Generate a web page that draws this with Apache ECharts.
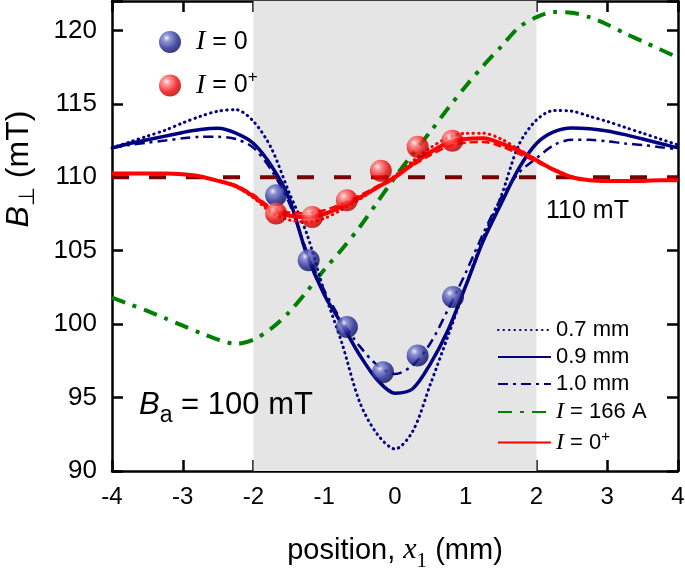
<!DOCTYPE html>
<html>
<head>
<meta charset="utf-8">
<script src="https://cdn.jsdelivr.net/npm/echarts@6/dist/echarts.min.js"></script>
<style>
  html, body { margin: 0; padding: 0; background: #fff; }
  #chart { width: 685px; height: 574px; }
</style>
</head>
<body>
<div id="chart"></div>
<script>
// positions along x1 (mm)
const xs = [-4, -3.75, -3.5, -3.25, -3, -2.75, -2.5, -2.25, -2, -1.75, -1.5, -1.25, -1, -0.75, -0.5, -0.25,
  0, 0.25, 0.5, 0.75, 1, 1.25, 1.5, 1.75, 2, 2.25, 2.5, 2.75, 3, 3.25, 3.5, 3.75, 4];
// model curves, B_perp (mT)
const b07 = [112.0, 112.4, 112.8, 113.2, 113.7, 114.15, 114.5, 114.6, 113.8, 112.0, 109.0, 106.2, 102.2, 98.7, 94.7, 92.5,
  91.5, 92.7, 95.9, 99.2, 102.6, 105.9, 108.7, 112.2, 113.9, 114.55, 114.5, 114.15, 113.8, 113.4, 113.0, 112.6, 112.2];
const b09 = [112.0, 112.3, 112.55, 112.8, 113.05, 113.25, 113.33, 113.0, 112.3, 110.8, 108.6, 104.8, 102.0, 100.0, 97.9, 96.2,
  95.3, 95.6, 97.3, 99.6, 102.6, 105.7, 108.2, 110.6, 112.3, 113.1, 113.35, 113.3, 113.15, 112.9, 112.6, 112.3, 112.0];
const b10 = [112.0, 112.2, 112.35, 112.5, 112.65, 112.75, 112.75, 112.6, 112.0, 110.5, 108.3, 105.0, 102.3, 100.2, 98.5, 97.2,
  96.6, 97.2, 98.7, 101.0, 103.5, 106.2, 108.6, 110.3, 111.3, 112.2, 112.55, 112.55, 112.45, 112.3, 112.2, 112.05, 111.9];
const g166 = [101.8, 101.35, 100.9, 100.4, 99.9, 99.4, 98.95, 98.65, 98.95, 99.7, 100.8, 102.2, 103.7, 105.1, 106.6, 108.3,
  110.0, 111.6, 113.1, 114.7, 116.2, 117.6, 118.9, 120.2, 120.9, 121.25, 121.2, 120.9, 120.4, 119.8, 119.25, 118.7, 118.15];
const r0p = [110.25, 110.25, 110.25, 110.25, 110.2, 110.05, 109.75, 109.4, 108.7, 107.8, 107.4, 107.3, 107.5, 108.0, 108.6, 109.3,
  110.0, 110.9, 111.7, 112.35, 112.6, 112.65, 112.3, 111.8, 111.15, 110.5, 110.0, 109.8, 109.75, 109.75, 109.75, 109.8, 109.8];
// extra red fits, central part only
const xsMid = [-2.5, -2.25, -2, -1.75, -1.5, -1.25, -1, -0.75, -0.5, -0.25, 0, 0.25, 0.5, 0.75, 1, 1.25, 1.5, 1.75, 2, 2.25, 2.5];
const r0pDot = [109.75, 109.35, 108.6, 107.6, 107.1, 106.95, 107.2, 107.8, 108.5, 109.3, 110.1, 111.1, 112.0, 112.7, 113.0, 113.0,
  112.6, 111.9, 111.2, 110.5, 110.0];
const r0pDash = [109.8, 109.45, 108.8, 107.95, 107.6, 107.55, 107.75, 108.2, 108.75, 109.4, 110.05, 110.8, 111.5, 112.1, 112.35,
  112.4, 112.1, 111.6, 111.05, 110.45, 110.0];
// measured points
const pX0 = [-1.68, -1.22, -0.68, -0.17, 0.32, 0.82];
const pY0 = [108.78, 104.35, 99.8, 96.73, 97.87, 101.85];
const pXp = [-1.68, -1.17, -0.68, -0.2, 0.32, 0.81];
const pYp = [107.53, 107.3, 108.44, 110.44, 112.07, 112.48];
// reference level and sample region
const refLevel = 110;
const sampleEdge = [-2, 2];
const xTicks = [-4, 4, 1];
const yTicks = [90, 122, 5];

const SANS = 'Liberation Sans, Arial, sans-serif';
const SERIF = 'Liberation Serif, Times New Roman, serif';

function zip(a, b) { return a.map((v, i) => [v, b[i]]); }

function ball(c0, c1, c2, c3) {
  return new echarts.graphic.RadialGradient(0.35, 0.32, 0.7, [
    {offset: 0, color: c0}, {offset: 0.22, color: c1}, {offset: 0.7, color: c2}, {offset: 1, color: c3}
  ]);
}

const chart = echarts.init(document.getElementById('chart'));

const legendNames = {
  'p0': '{i|I}{t| = 0}',
  'pp': '{i|I}{t| = 0}{sup|+}',
  '0.7 mm': '{t|0.7 mm}',
  '0.9 mm': '{t|0.9 mm}',
  '1.0 mm': '{t|1.0 mm}',
  'g166': '{i|I}{t| = 166 A}',
  'r0p': '{i|I}{t| = 0}{sup|+}'
};

const option = {
  animation: false,
  backgroundColor: '#fff',
  grid: {left: 112, right: 7, top: 1, bottom: 103, containLabel: false, outerBoundsMode: 'none'},
  xAxis: [{
    type: 'value', min: xTicks[0], max: xTicks[1], interval: xTicks[2],
    name: '{t|position, }{i|x}{s|1}{t| (mm)}',
    nameLocation: 'middle', nameGap: 58,
    nameTextStyle: {
      rich: {
        t: {fontFamily: SANS, fontSize: 29, color: '#000'},
        i: {fontFamily: SERIF, fontStyle: 'italic', fontSize: 30, color: '#000'},
        s: {fontFamily: SERIF, fontSize: 21, color: '#000', padding: [22, 0, 0, 0]}
      }
    },
    axisLine: {onZero: false, lineStyle: {color: '#000', width: 2.5}},
    axisTick: {inside: true, length: 11, lineStyle: {color: '#000', width: 2.5}},
    axisLabel: {margin: 14, fontFamily: SANS, fontSize: 24, color: '#000'},
    splitLine: {show: false}
  }, {
    type: 'value', position: 'top', min: xTicks[0], max: xTicks[1], interval: xTicks[2],
    axisLine: {onZero: false, lineStyle: {color: '#000', width: 2.5}},
    axisTick: {inside: true, length: 11, lineStyle: {color: '#000', width: 2.5}},
    axisLabel: {show: false},
    splitLine: {show: false}
  }],
  yAxis: [{
    type: 'value', min: yTicks[0], max: yTicks[1], interval: yTicks[2],
    axisLine: {onZero: false, lineStyle: {color: '#000', width: 2.5}},
    axisTick: {inside: true, length: 11, lineStyle: {color: '#000', width: 2.5}},
    axisLabel: {margin: 15, fontFamily: SANS, fontSize: 26, color: '#000',
      formatter: v => (v > 121 ? '' : String(v))},
    splitLine: {show: false}
  }, {
    type: 'value', position: 'right', min: yTicks[0], max: yTicks[1], interval: yTicks[2],
    axisLine: {onZero: false, lineStyle: {color: '#000', width: 2.5}},
    axisTick: {inside: true, length: 11, lineStyle: {color: '#000', width: 2.5}},
    axisLabel: {show: false},
    splitLine: {show: false}
  }],
  legend: [{
    data: ['p0', 'pp'],
    orient: 'vertical', left: 159, top: 28, padding: 0,
    itemWidth: 22, itemHeight: 22, itemGap: 13, selectedMode: false,
    formatter: n => legendNames[n],
    textStyle: {padding: [0, 0, 0, 10], rich: {
      i: {fontFamily: SERIF, fontStyle: 'italic', fontSize: 28, color: '#000'},
      t: {fontFamily: SANS, fontSize: 25, color: '#000'},
      sup: {fontFamily: SANS, fontSize: 17, color: '#000', padding: [0, 0, 16, 0]}
    }}
  }, {
    data: ['0.7 mm', '0.9 mm', '1.0 mm', 'g166', 'r0p'],
    orient: 'vertical', left: 497, top: 319, padding: 0,
    itemWidth: 53, itemHeight: 14, itemGap: 5, selectedMode: false,
    itemStyle: {opacity: 0},
    formatter: n => legendNames[n],
    textStyle: {rich: {
      i: {fontFamily: SERIF, fontStyle: 'italic', fontSize: 24, color: '#000', lineHeight: 22},
      t: {fontFamily: SANS, fontSize: 22, color: '#000', lineHeight: 22},
      sup: {fontFamily: SANS, fontSize: 15, color: '#000', padding: [0, 0, 12, 0]}
    }}
  }],
  graphic: [{
    type: 'text', left: 546, top: 199, z: 100,
    style: {text: '110 mT', font: '25px ' + SANS, fill: '#000'}
  }, {
    type: 'text', left: 139, top: 390, z: 100,
    style: {
      text: '{b|B}{s|a}{n| = 100 mT}',
      rich: {
        b: {fontFamily: SANS, fontStyle: 'italic', fontSize: 31, fill: '#000'},
        s: {fontFamily: SANS, fontSize: 23, fill: '#000', padding: [20, 0, 0, 0]},
        n: {fontFamily: SANS, fontSize: 31, fill: '#000'}
      }
    }
  }, {
    type: 'text', x: 19, y: 169, rotation: Math.PI / 2, z: 100,
    style: {
      text: '{b|B}{s|⊥}{n| (mT)}',
      align: 'center', verticalAlign: 'middle',
      rich: {
        b: {fontFamily: SANS, fontStyle: 'italic', fontSize: 32, fill: '#000'},
        s: {fontFamily: SANS, fontSize: 22, fill: '#000', padding: [18, 0, 0, 0]},
        n: {fontFamily: SANS, fontSize: 32, fill: '#000'}
      }
    }
  }],
  series: [{
    // shaded sample region
    type: 'line', data: [], z: 0, silent: true,
    markArea: {
      silent: true,
      itemStyle: {color: '#e5e5e5'},
      data: [[{xAxis: sampleEdge[0]}, {xAxis: sampleEdge[1]}]]
    }
  }, {
    name: 'ref', type: 'line', z: 2, symbol: 'none', silent: true,
    data: [[xTicks[0], refLevel], [xTicks[1], refLevel]],
    lineStyle: {color: '#7a0000', width: 4, type: [17, 20]}
  }, {
    name: 'g166', type: 'line', z: 3, symbol: 'none', smooth: 0.3,
    data: zip(xs, g166),
    lineStyle: {color: '#008000', width: 4, type: [14, 8, 4, 8]}
  }, {
    name: '0.7 mm', type: 'line', z: 4, symbol: 'none', smooth: 0.3,
    data: zip(xs, b07),
    lineStyle: {color: '#000080', width: 3, type: [0.5, 5], cap: 'round'}
  }, {
    name: '1.0 mm', type: 'line', z: 4, symbol: 'none', smooth: 0.3,
    data: zip(xs, b10),
    lineStyle: {color: '#000080', width: 2.5, type: [10, 5, 3, 5]}
  }, {
    name: '0.9 mm', type: 'line', z: 5, symbol: 'none', smooth: 0.3,
    data: zip(xs, b09),
    lineStyle: {color: '#000080', width: 3.5}
  }, {
    name: 'r0pDot', type: 'line', z: 5, symbol: 'none', smooth: 0.3,
    data: zip(xsMid, r0pDot),
    lineStyle: {color: '#ff0000', width: 3, type: [0.5, 5], cap: 'round'}
  }, {
    name: 'r0pDash', type: 'line', z: 5, symbol: 'none', smooth: 0.3,
    data: zip(xsMid, r0pDash),
    lineStyle: {color: '#ff0000', width: 2.5, type: [8, 4]}
  }, {
    name: 'r0p', type: 'line', z: 6, symbol: 'none', smooth: 0.3,
    data: zip(xs, r0p),
    lineStyle: {color: '#ff0000', width: 4}
  }, {
    name: 'p0', type: 'scatter', z: 8, symbol: 'circle', symbolSize: 22,
    data: zip(pX0, pY0),
    itemStyle: {color: ball('#f2f2ff', '#7a7fcc', '#1c2290', '#0a0d55')}
  }, {
    name: 'pp', type: 'scatter', z: 8, symbol: 'circle', symbolSize: 22,
    data: zip(pXp, pYp),
    itemStyle: {color: ball('#fff0f0', '#ff8080', '#ee0000', '#b00000')}
  }]
};

chart.setOption(option);
</script>
</body>
</html>
